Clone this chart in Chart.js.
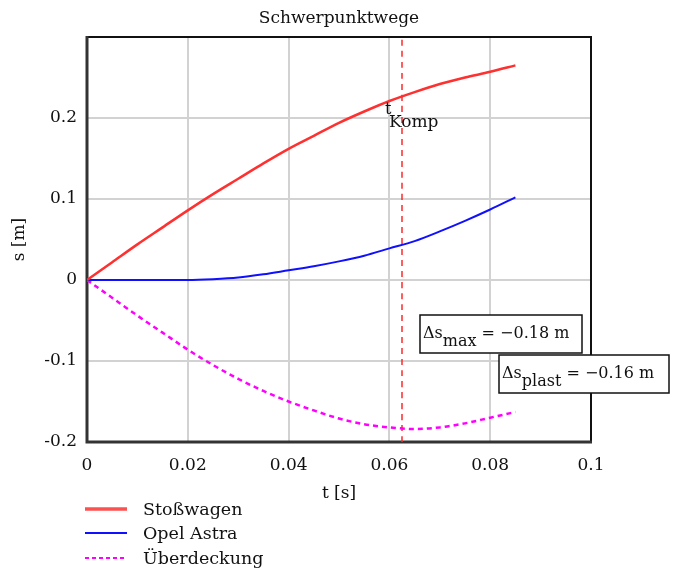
<!DOCTYPE html>
<html><head><meta charset="utf-8">
<script src="https://cdn.jsdelivr.net/npm/chart.js@4.4.1/dist/chart.umd.min.js"></script>
<style>html,body{margin:0;padding:0;background:#fff}#wrap{width:680px;height:573px;position:relative}canvas{display:block}</style>
</head><body><div id="wrap"><canvas id="c" width="680" height="573"></canvas></div>
<script>
const chartTitle = 'Schwerpunktwege';
const xTitle = 't [s]';
const yTitle = 's [m]';
const seriesNames = ['Stoßwagen', 'Opel Astra', 'Überdeckung'];
const tValues     = [0, 0.005, 0.01, 0.015, 0.02, 0.025, 0.03, 0.035, 0.04, 0.045, 0.05, 0.055, 0.06, 0.065, 0.07, 0.075, 0.08, 0.085];
const stosswagen  = [0, 0.022, 0.044, 0.065, 0.086, 0.106, 0.125, 0.144, 0.162, 0.178, 0.194, 0.208, 0.221, 0.232, 0.242, 0.250, 0.257, 0.265];
const opelAstra   = [0, 0, 0, 0, 0, 0.001, 0.003, 0.007, 0.012, 0.017, 0.023, 0.030, 0.039, 0.048, 0.060, 0.073, 0.087, 0.102];
const ueberdeckung= [0, -0.022, -0.044, -0.065, -0.086, -0.105, -0.122, -0.137, -0.150, -0.161, -0.171, -0.178, -0.182, -0.184, -0.182, -0.177, -0.170, -0.163];
const xTicks = [0, 0.02, 0.04, 0.06, 0.08, 0.1];
const yTicks = [-0.2, -0.1, 0, 0.1, 0.2, 0.3];
const yTickLabels = ['-0.2', '-0.1', '0', '0.1', '0.2', ''];
const xRange = [0, 0.1];
const yRange = [-0.2, 0.3];
const tKomp = 0.0625;
const tKompLabel = ['t', 'Komp'];
const dsMaxLabel = ['Δs', 'max', ' = −0.18 m'];
const dsPlastLabel = ['Δs', 'plast', ' = −0.16 m'];

const serif = "'DejaVu Serif', 'Liberation Serif', serif";
const colors = ['#ff3030', '#1010ff', '#ff00ff'];

const pts = arr => tValues.map((t, i) => ({x: t, y: arr[i]}));

const overlay = {
  id: 'overlay',
  beforeDatasetsDraw(chart) {
    const {ctx, chartArea: a} = chart;
    ctx.save();
    ctx.strokeStyle = '#111';
    ctx.lineWidth = 2;
    ctx.beginPath();
    ctx.moveTo(a.left, a.top); ctx.lineTo(a.right, a.top); ctx.lineTo(a.right, a.bottom);
    ctx.stroke();
    ctx.strokeStyle = '#333';
    ctx.lineWidth = 3;
    ctx.beginPath();
    ctx.moveTo(a.left, a.top - 1); ctx.lineTo(a.left, a.bottom); ctx.lineTo(a.right + 1, a.bottom);
    ctx.stroke();
    ctx.restore();
  },
  afterDraw(chart) {
    const {ctx, chartArea: a, scales} = chart;
    ctx.save();
    // title
    ctx.fillStyle = '#111';
    ctx.font = '17px ' + serif;
    ctx.textAlign = 'center';
    ctx.textBaseline = 'alphabetic';
    ctx.fillText(chartTitle, (a.left + a.right) / 2, 23);
    // tKomp label
    ctx.textAlign = 'left';
    const kx = scales.x.getPixelForValue(tKomp);
    ctx.font = '16px ' + serif;
    ctx.fillText(tKompLabel[0], kx - 17, 114);
    ctx.font = '17px ' + serif;
    ctx.fillText(tKompLabel[1], kx - 13, 127);
    // boxes
    const box = (x, y, w, h, parts) => {
      ctx.fillStyle = '#fff';
      ctx.fillRect(x, y, w, h);
      ctx.strokeStyle = '#111';
      ctx.lineWidth = 1.5;
      ctx.strokeRect(x, y, w, h);
      ctx.fillStyle = '#111';
      let cx = x + 3;
      const base = y + 23;
      ctx.font = '16px ' + serif;
      ctx.fillText(parts[0], cx, base); cx += ctx.measureText(parts[0]).width;
      ctx.font = '16px ' + serif;
      ctx.fillText(parts[1], cx, base + 8); cx += ctx.measureText(parts[1]).width;
      ctx.font = '16px ' + serif;
      ctx.fillText(parts[2], cx, base);
    };
    box(420, 315, 162, 38, dsMaxLabel);
    box(499, 355, 170, 38, dsPlastLabel);
    // legend
    const rows = [509, 533, 558];
    chart.data.datasets.slice(0, 3).forEach((ds, i) => {
      ctx.strokeStyle = i === 0 ? '#ff5050' : ds.borderColor;
      ctx.lineWidth = i === 0 ? 3.5 : 2;
      ctx.setLineDash(i === 2 ? [4, 3] : []);
      ctx.beginPath();
      ctx.moveTo(85, rows[i]); ctx.lineTo(127, rows[i]);
      ctx.stroke();
      ctx.setLineDash([]);
      ctx.fillStyle = '#111';
      ctx.font = '17.5px ' + serif;
      ctx.textBaseline = 'middle';
      ctx.fillText(ds.label, 143, rows[i] + 1);
    });
    ctx.restore();
  }
};

new Chart(document.getElementById('c'), {
  type: 'line',
  data: {
    datasets: [
      {label: seriesNames[0], data: pts(stosswagen), borderColor: colors[0], borderWidth: 2.5},
      {label: seriesNames[1], data: pts(opelAstra), borderColor: colors[1], borderWidth: 2},
      {label: seriesNames[2], data: pts(ueberdeckung), borderColor: colors[2], borderWidth: 2.5, borderDash: [5, 4]},
      {label: 'tKomp', data: [{x: tKomp, y: yRange[0]}, {x: tKomp, y: yRange[1]}], borderColor: '#ff2a2a', borderWidth: 1.5, borderDash: [6, 5], tension: 0}
    ]
  },
  options: {
    responsive: false,
    devicePixelRatio: 1,
    animation: false,
    elements: {point: {radius: 0}, line: {tension: 0.4, cubicInterpolationMode: 'monotone', fill: false}},
    layout: {padding: {top: 37, right: 89, bottom: 68, left: 0}},
    plugins: {legend: {display: false}, title: {display: false}, tooltip: {enabled: false}},
    scales: {
      x: {
        type: 'linear', min: xRange[0], max: xRange[1],
        afterBuildTicks: s => { s.ticks = xTicks.map(v => ({value: v})); },
        afterFit: s => { s.height = 63; },
        border: {display: false},
        grid: {color: '#d2d2d2', lineWidth: 2, drawTicks: false},
        ticks: {padding: 13, color: '#111', font: {family: serif, size: 17}, maxRotation: 0,
          callback: v => String(Math.round(v * 100) / 100)},
        title: {display: true, text: xTitle, color: '#111', font: {family: serif, size: 17}, padding: {top: 0, bottom: 1}}
      },
      y: {
        type: 'linear', min: yRange[0], max: yRange[1],
        afterBuildTicks: s => { s.ticks = yTicks.map(v => ({value: v})); },
        afterFit: s => { s.width = 87; },
        border: {display: false},
        grid: {color: '#d2d2d2', lineWidth: 2, drawTicks: false},
        ticks: {padding: 10, color: '#111', font: {family: serif, size: 17},
          callback: (v) => yTickLabels[yTicks.findIndex(t => Math.abs(t - v) < 1e-9)] ?? ''},
        title: {display: true, text: yTitle, color: '#111', font: {family: serif, size: 17}, padding: {top: 9, bottom: 0}}
      }
    }
  },
  plugins: [overlay]
});
</script></body></html>
